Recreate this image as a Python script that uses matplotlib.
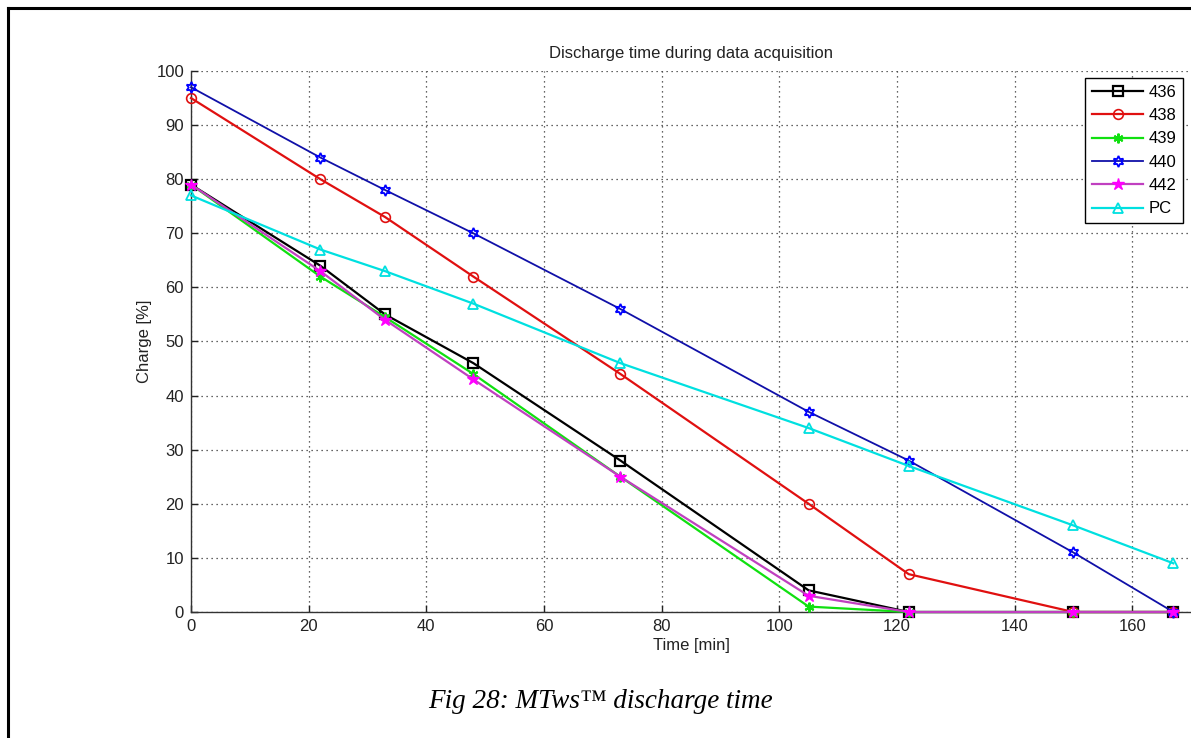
import matplotlib
matplotlib.use("Agg")
import matplotlib.pyplot as plt
from matplotlib.lines import Line2D

plt.rcParams["font.family"] = ["Liberation Sans", "DejaVu Sans"]

# Data (time in minutes, charge in %)
time_min = [0, 22, 33, 48, 73, 105, 122, 150, 167]
charge_436 = [79, 64, 55, 46, 28, 4, 0, 0, 0]
charge_438 = [95, 80, 73, 62, 44, 20, 7, 0, 0]
charge_439 = [79, 62, 54.5, 44, 25, 1, 0, 0, 0]
charge_440 = [97, 84, 78, 70, 56, 37, 28, 11, 0]
charge_442 = [79, 63, 54, 43, 25, 3, 0, 0, 0]
charge_pc = [77, 67, 63, 57, 46, 34, 27, 16, 9]

W, H = 1191, 738
fig = plt.figure(figsize=(W / 100, H / 100), dpi=100)
fig.patch.set_facecolor("white")

# axes box in pixel terms: x 191..1191, y 71..612 (from top)
ax = fig.add_axes([191 / W, (H - 612) / H, 1000 / W, 541 / H])

common = dict(clip_on=False, zorder=3)
ax.plot(time_min, charge_436, color="k", lw=1.6, marker="s", ms=7,
        mfc="none", mec="k", mew=1.6, label="436", **common)
ax.plot(time_min, charge_438, color="#e01010", lw=1.6, marker="o", ms=7,
        mfc="none", mec="#e01010", mew=1.2, label="438", **common)
ax.plot(time_min, charge_439, color="#10e010", lw=1.6, marker=(6, 2, 0), ms=7,
        mec="#10e010", mew=1.5, label="439", **common)
ax.plot(time_min, charge_440, color="#1010a8", lw=1.3, marker=(6, 1, 0), ms=8,
        mfc="none", mec="#0000ff", mew=1.3, label="440", **common)
ax.plot(time_min, charge_442, color="#c040c0", lw=1.6, marker="*", ms=9,
        mfc="#ff00ff", mec="#ff00ff", mew=1.0, label="442", **common)
ax.plot(time_min, charge_pc, color="#00e0e0", lw=1.6, marker="^", ms=7,
        mfc="none", mec="#00e0e0", mew=1.3, label="PC", **common)

ax.set_xlim(0, 170)
ax.set_ylim(0, 100)
ax.set_xticks(range(0, 161, 20))
ax.set_yticks(range(0, 101, 10))
ax.grid(True, linestyle=(0, (1, 3)), color="#333333", lw=0.9)
ax.tick_params(direction="in", length=5, width=1, labelsize=12,
               colors="#222222", pad=5)
for side in ("top", "right"):
    ax.spines[side].set_visible(False)
for side in ("left", "bottom"):
    ax.spines[side].set_color("#333333")
    ax.spines[side].set_linewidth(1.0)

ax.set_title("Discharge time during data acquisition", fontsize=12,
             color="#222222", pad=9)
ax.set_xlabel("Time [min]", fontsize=12, color="#222222", labelpad=3)
ax.set_ylabel("Charge [%]", fontsize=12, color="#222222", labelpad=3)

leg = ax.legend(loc="upper right", bbox_to_anchor=(0.992, 0.987),
                fontsize=12, handlelength=3.1, labelspacing=0.5,
                handletextpad=0.3, borderpad=0.4, borderaxespad=0,
                fancybox=False, framealpha=1, edgecolor="k")
leg.get_frame().set_linewidth(1.0)
leg.set_zorder(5)

# page frame (top and left border) and caption
fig.add_artist(Line2D([8 / W, 8 / W], [0, 1 - 8 / H], transform=fig.transFigure,
                      color="k", lw=2.2))
fig.add_artist(Line2D([8 / W, 1], [1 - 8 / H, 1 - 8 / H], transform=fig.transFigure,
                      color="k", lw=2.2))
fig.text(600 / W, 1 - 701 / H, "Fig 28: MTws\u2122 discharge time",
         family=["Liberation Serif", "DejaVu Serif"], style="italic",
         fontsize=19.5, ha="center", va="center")

fig.savefig("out.png", dpi=100, facecolor="white")
